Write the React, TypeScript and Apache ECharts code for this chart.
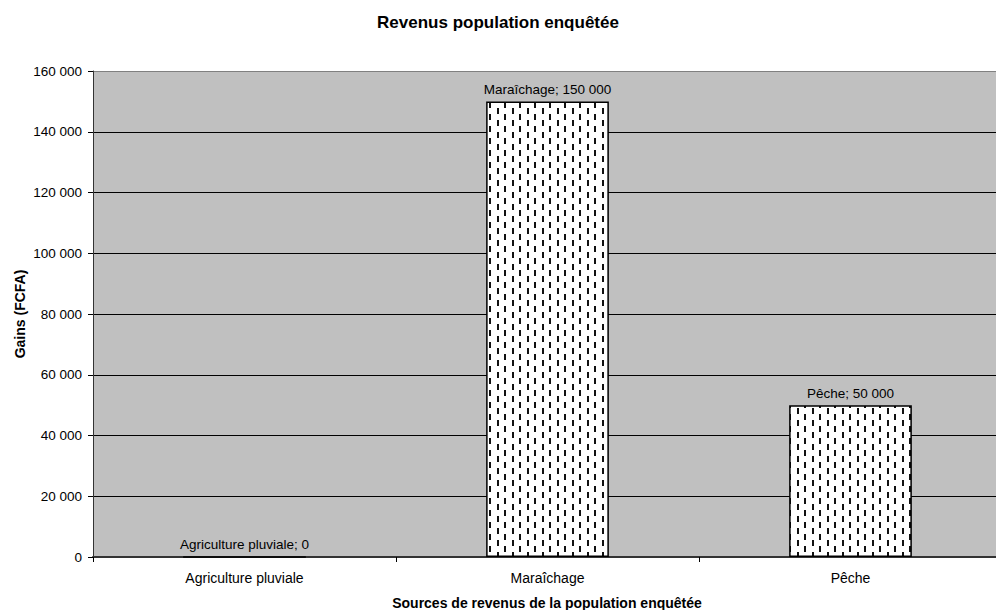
import React, { useEffect, useRef } from "react";
import * as echarts from "echarts";

const categories = ["Agriculture pluviale", "Maraîchage", "Pêche"];
const gains = [0, 150000, 50000];
const yTicks = [0, 20000, 40000, 60000, 80000, 100000, 120000, 140000, 160000];

const fmt = (v: number) => String(v).replace(/\B(?=(\d{3})+(?!\d))/g, " ");

function makePattern(): HTMLCanvasElement {
  const c = document.createElement("canvas");
  c.width = 15;
  c.height = 12;
  const ctx = c.getContext("2d")!;
  ctx.fillStyle = "#ffffff";
  ctx.fillRect(0, 0, 15, 12);
  ctx.fillStyle = "#111111";
  ctx.fillRect(2, 0, 2, 6);
  ctx.fillRect(9, 6, 2, 6);
  return c;
}

export default function App() {
  const ref = useRef<HTMLDivElement>(null);
  useEffect(() => {
    if (!ref.current) return;
    const chart = echarts.init(ref.current, null, { renderer: "svg" });
    const font = "'Liberation Sans', Arial, sans-serif";
    const pattern = makePattern();
    const gridColors = yTicks.map((t, i) => (i === yTicks.length - 1 ? "#808080" : "#000000"));
    chart.setOption({
      animation: false,
      textStyle: { fontFamily: font },
      grid: {
        left: 93,
        right: 0,
        top: 71,
        bottom: 53,
        show: true,
        backgroundColor: "#C0C0C0",
        borderWidth: 0,
      },
      xAxis: {
        type: "category",
        data: categories,
        axisLine: { show: true, lineStyle: { color: "#333333", width: 2 } },
        axisTick: { show: true, length: 5, lineStyle: { color: "#000" } },
        axisLabel: { color: "#000", fontSize: 14, margin: 14, fontFamily: font },
      },
      yAxis: {
        type: "value",
        min: 0,
        max: 160000,
        interval: 20000,
        axisLine: { show: true, lineStyle: { color: "#333333", width: 1 } },
        axisTick: { show: true, length: 5, lineStyle: { color: "#000" } },
        axisLabel: {
          color: "#000",
          fontSize: 13.5,
          margin: 11,
          fontFamily: font,
          formatter: (v: number) => fmt(v),
        },
        splitLine: { show: true, lineStyle: { color: gridColors, width: 1 } },
      },
      series: [
        {
          type: "bar",
          data: gains,
          barWidth: "40.5%",
          itemStyle: {
            color: { image: pattern, repeat: "repeat" },
            borderColor: "#000",
            borderWidth: 1.5,
          },
          label: {
            show: true,
            position: "top",
            distance: 5,
            color: "#000",
            fontSize: 13.5,
            fontFamily: font,
            formatter: (p: any) => `${p.name}; ${fmt(p.value)}`,
          },
        },
      ],
      graphic: [
        {
          type: "text",
          x: 498,
          y: 22,
          style: {
            text: "Revenus population enquêtée",
            font: `bold 17px ${font}`,
            fill: "#000",
            textAlign: "center",
            textVerticalAlign: "middle",
          },
        },
        {
          type: "text",
          x: 547,
          y: 603,
          style: {
            text: "Sources de revenus de la population enquêtée",
            font: `bold 14px ${font}`,
            fill: "#000",
            textAlign: "center",
            textVerticalAlign: "middle",
          },
        },
        {
          type: "text",
          x: 20,
          y: 314,
          rotation: Math.PI / 2,
          style: {
            text: "Gains (FCFA)",
            font: `bold 14px ${font}`,
            fill: "#000",
            textAlign: "center",
            textVerticalAlign: "middle",
          },
        },
      ],
    });
    return () => chart.dispose();
  }, []);
  return (
    <div style={{ position: "absolute", left: 0, top: 0, width: 996, height: 610, overflow: "hidden" }}>
      <div ref={ref} style={{ width: 1002, height: 610 }} />
    </div>
  );
}
